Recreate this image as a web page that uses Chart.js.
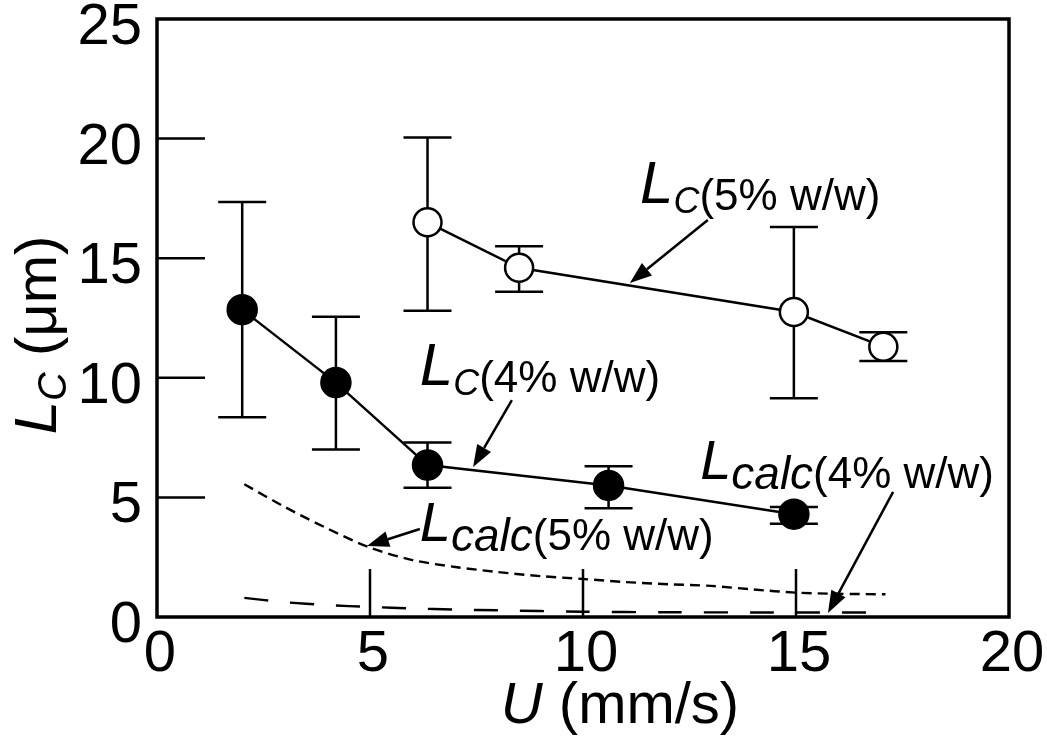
<!DOCTYPE html>
<html>
<head>
<meta charset="utf-8">
<script src="https://cdn.jsdelivr.net/npm/chart.js@4.4.0/dist/chart.umd.min.js"></script>
<style>
  body { margin: 0; background: #fff; }
</style>
</head>
<body>
<canvas id="lcChart" width="1047" height="740"></canvas>
<script>
// measured Lc, 4% w/w (filled circles)
var u4 = [2.0, 4.2, 6.35, 10.6, 14.95];
var lc4 = [12.85, 9.8, 6.35, 5.5, 4.3];
var lc4Hi = [17.35, 12.55, 7.3, 6.3, 4.6];
var lc4Lo = [8.35, 7.0, 5.4, 4.55, 3.9];

// measured Lc, 5% w/w (open circles)
var u5 = [6.35, 8.5, 14.95, 17.05];
var lc5 = [16.5, 14.6, 12.75, 11.3];
var lc5Hi = [20.05, 15.5, 16.3, 11.9];
var lc5Lo = [12.8, 13.6, 9.15, 10.7];

// calculated curves
var u5calc = [2.05, 3, 4, 5, 6, 7, 8, 9, 10, 11, 12, 13, 14, 15, 16, 17.1];
var lc5calc = [5.55, 4.6, 3.7, 2.9, 2.38, 2.09, 1.88, 1.71, 1.59, 1.46, 1.37, 1.3, 1.15, 1.02, 0.97, 0.95];
var u4calc = [2.05, 3, 4, 5, 6, 7, 8, 10, 12, 14, 17.1];
var lc4calc = [0.8, 0.62, 0.5, 0.42, 0.36, 0.31, 0.28, 0.22, 0.2, 0.19, 0.19];

var xTicks = [0, 5, 10, 15, 20];
var yTicks = [0, 5, 10, 15, 20, 25];

// annotation labels: [u, Lc] of text start, subscript, rest
var labels = [
  [11.34, 17.0, 'C', '(5% w/w)'],
  [6.17, 9.4, 'C', '(4% w/w)'],
  [6.17, 2.8, 'calc', '(5% w/w)'],
  [12.75, 5.4, 'calc', '(4% w/w)']
];
// arrows: from [u, Lc] to [u, Lc]
var arrows = [
  [12.93, 16.6, 11.1, 13.96],
  [8.33, 9.07, 7.42, 6.27],
  [6.17, 3.68, 4.93, 2.97],
  [17.28, 5.23, 15.75, 0.17]
];

var FONT = '"Liberation Sans", Arial, sans-serif';

function pts(xs, ys) {
  var out = [];
  for (var i = 0; i < xs.length; i++) out.push({x: xs[i], y: ys[i]});
  return out;
}

function richText(ctx, x, y, parts) {
  for (var i = 0; i < parts.length; i++) {
    ctx.font = parts[i][1];
    ctx.fillText(parts[i][0], x, y + parts[i][2]);
    x += ctx.measureText(parts[i][0]).width;
  }
}

function textWidth(ctx, parts) {
  var w = 0;
  for (var i = 0; i < parts.length; i++) {
    ctx.font = parts[i][1];
    w += ctx.measureText(parts[i][0]).width;
  }
  return w;
}

var extras = {
  id: 'extras',
  beforeDatasetsDraw: function(chart) {
    var ctx = chart.ctx, xs = chart.scales.x, ys = chart.scales.y;
    ctx.save();
    ctx.strokeStyle = '#000';
    ctx.lineWidth = 2.5;
    function errBars(u, lo, hi) {
      for (var i = 0; i < u.length; i++) {
        var px = xs.getPixelForValue(u[i]);
        var p1 = ys.getPixelForValue(lo[i]), p2 = ys.getPixelForValue(hi[i]);
        ctx.beginPath();
        ctx.moveTo(px, p1); ctx.lineTo(px, p2);
        ctx.moveTo(px - 24, p1); ctx.lineTo(px + 24, p1);
        ctx.moveTo(px - 24, p2); ctx.lineTo(px + 24, p2);
        ctx.stroke();
      }
    }
    errBars(u4, lc4Lo, lc4Hi);
    errBars(u5, lc5Lo, lc5Hi);
    ctx.restore();
  },
  afterDraw: function(chart) {
    var ctx = chart.ctx, xs = chart.scales.x, ys = chart.scales.y;
    var a = chart.chartArea;
    ctx.save();
    ctx.strokeStyle = '#000';
    ctx.fillStyle = '#000';

    // frame
    ctx.lineWidth = 3.5;
    ctx.strokeRect(a.left, a.top, a.right - a.left, a.bottom - a.top);

    // inward ticks
    ctx.lineWidth = 2.5;
    ctx.beginPath();
    for (var i = 1; i < yTicks.length - 1; i++) {
      var py = ys.getPixelForValue(yTicks[i]);
      ctx.moveTo(a.left, py); ctx.lineTo(a.left + 48, py);
    }
    for (var j = 1; j < xTicks.length - 1; j++) {
      var px = xs.getPixelForValue(xTicks[j]);
      ctx.moveTo(px, a.bottom); ctx.lineTo(px, a.bottom - 48);
    }
    ctx.stroke();

    // arrows
    ctx.lineWidth = 2.5;
    arrows.forEach(function(ar) {
      var x1 = xs.getPixelForValue(ar[0]), y1 = ys.getPixelForValue(ar[1]);
      var x2 = xs.getPixelForValue(ar[2]), y2 = ys.getPixelForValue(ar[3]);
      var ang = Math.atan2(y2 - y1, x2 - x1);
      var hl = 22, hw = 8;
      var bx = x2 - hl * Math.cos(ang), by = y2 - hl * Math.sin(ang);
      ctx.beginPath();
      ctx.moveTo(x1, y1); ctx.lineTo(bx, by);
      ctx.stroke();
      ctx.beginPath();
      ctx.moveTo(x2, y2);
      ctx.lineTo(bx + hw * Math.sin(ang), by - hw * Math.cos(ang));
      ctx.lineTo(bx - hw * Math.sin(ang), by + hw * Math.cos(ang));
      ctx.closePath();
      ctx.fill();
    });

    // labels
    ctx.textBaseline = 'alphabetic';
    ctx.textAlign = 'left';
    labels.forEach(function(lb) {
      var x = xs.getPixelForValue(lb[0]), y = ys.getPixelForValue(lb[1]);
      var calc = lb[2] !== 'C';
      richText(ctx, x, y, [
        ['L', 'italic ' + (calc ? 56 : 60) + 'px ' + FONT, calc ? -9 : -7],
        [lb[2], 'italic ' + (calc ? 46 : 36) + 'px ' + FONT, calc ? 1 : 3],
        [lb[3], '44px ' + FONT, 0]
      ]);
    });

    // x axis title
    var xt = [
      ['U', 'italic 58px ' + FONT, 0],
      [' (mm/s)', '58px ' + FONT, 0]
    ];
    var cx = (a.left + a.right) / 2 + 37;
    richText(ctx, cx - textWidth(ctx, xt) / 2, 723, xt);

    // y axis title
    var yt = [
      ['L', 'italic 60px ' + FONT, 0],
      ['C', 'italic 40px ' + FONT, 10],
      [' (\u03bcm)', '58px ' + FONT, 0]
    ];
    ctx.translate(56, (a.top + a.bottom) / 2 + 17);
    ctx.rotate(-Math.PI / 2);
    richText(ctx, -textWidth(ctx, yt) / 2, 0, yt);
    ctx.restore();
  }
};

var ctx = document.getElementById('lcChart');
new Chart(ctx, {
  type: 'scatter',
  data: {
    datasets: [
      {
        label: 'Lcalc 5%',
        data: pts(u5calc, lc5calc),
        showLine: true,
        borderColor: '#000',
        borderWidth: 2.4,
        borderDash: [10, 6],
        pointRadius: 0,
        tension: 0.3
      },
      {
        label: 'Lcalc 4%',
        data: pts(u4calc, lc4calc),
        showLine: true,
        borderColor: '#000',
        borderWidth: 2.4,
        borderDash: [24, 22],
        pointRadius: 0,
        tension: 0.3
      },
      {
        label: 'Lc 4%',
        data: pts(u4, lc4),
        showLine: true,
        borderColor: '#000',
        borderWidth: 2.5,
        pointRadius: 15,
        pointBackgroundColor: '#000',
        pointBorderColor: '#000',
        pointBorderWidth: 1.5
      },
      {
        label: 'Lc 5%',
        data: pts(u5, lc5),
        showLine: true,
        borderColor: '#000',
        borderWidth: 2.5,
        pointRadius: 14,
        pointBackgroundColor: '#fff',
        pointBorderColor: '#000',
        pointBorderWidth: 2.5
      }
    ]
  },
  options: {
    responsive: false,
    animation: false,
    layout: { padding: { top: 19, right: 38, left: 0, bottom: 0 } },
    plugins: { legend: { display: false }, tooltip: { enabled: false } },
    scales: {
      x: {
        type: 'linear',
        min: 0, max: 20,
        grid: { display: false, drawTicks: false },
        border: { display: false },
        ticks: {
          stepSize: 5,
          color: '#000',
          padding: 3,
          labelOffset: 3,
          font: { family: 'Liberation Sans', size: 58 }
        },
        afterFit: function(scale) {
          scale.height = 123;
          scale.paddingLeft = 0; scale.paddingRight = 0;
        }
      },
      y: {
        type: 'linear',
        min: 0, max: 25,
        grid: { display: false, drawTicks: false },
        border: { display: false },
        ticks: {
          stepSize: 5,
          color: '#000',
          padding: 15,
          labelOffset: 9,
          font: { family: 'Liberation Sans', size: 58 }
        },
        afterFit: function(scale) {
          scale.width = 157;
          scale.paddingTop = 0; scale.paddingBottom = 0;
        }
      }
    }
  },
  plugins: [extras]
});
</script>
</body>
</html>
